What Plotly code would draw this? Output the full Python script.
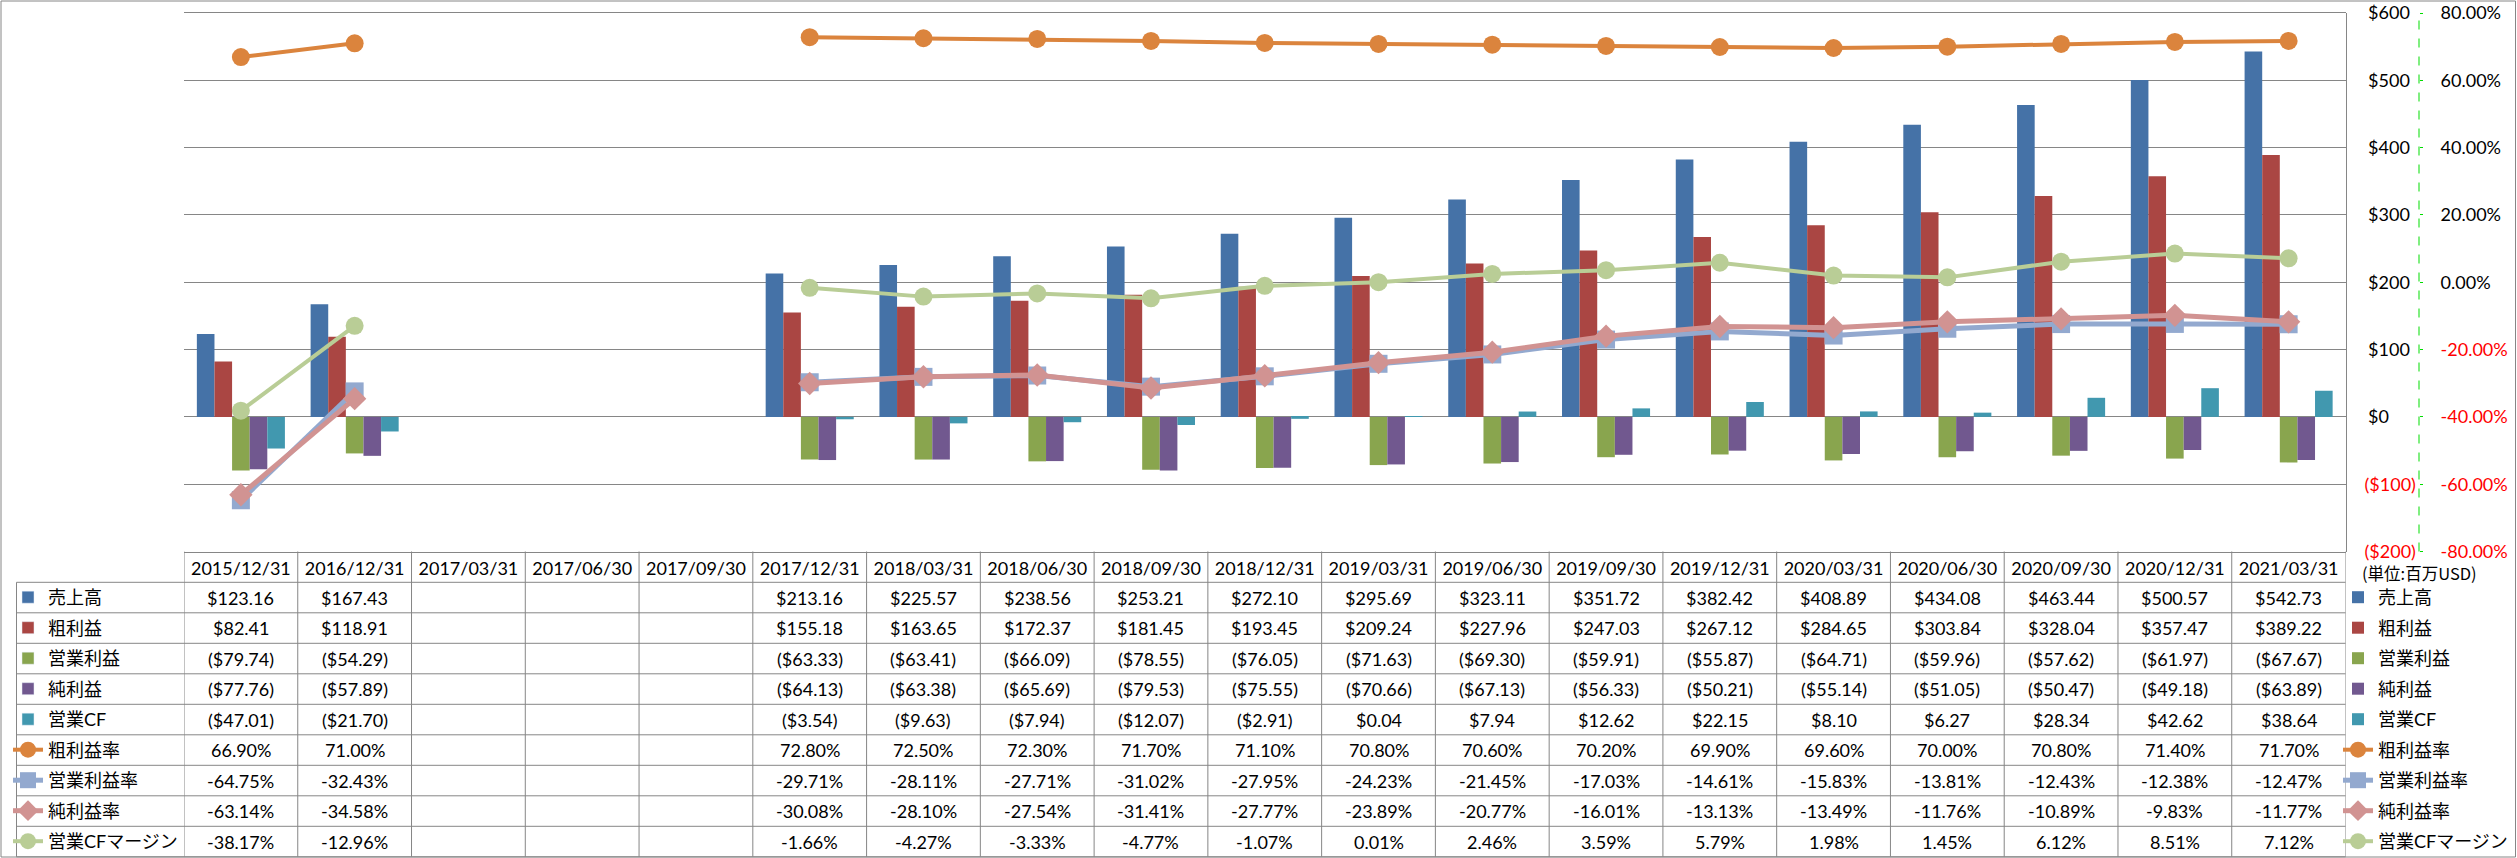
import plotly.graph_objects as go

W, H = 2517, 858

# ---------------- data ----------------
categories = ['2015/12/31', '2016/12/31', '2017/03/31', '2017/06/30', '2017/09/30',
              '2017/12/31', '2018/03/31', '2018/06/30', '2018/09/30', '2018/12/31',
              '2019/03/31', '2019/06/30', '2019/09/30', '2019/12/31', '2020/03/31',
              '2020/06/30', '2020/09/30', '2020/12/31', '2021/03/31']
N = None
sales = [123.16, 167.43, N, N, N, 213.16, 225.57, 238.56, 253.21, 272.10,
         295.69, 323.11, 351.72, 382.42, 408.89, 434.08, 463.44, 500.57, 542.73]
gross_profit = [82.41, 118.91, N, N, N, 155.18, 163.65, 172.37, 181.45, 193.45,
                209.24, 227.96, 247.03, 267.12, 284.65, 303.84, 328.04, 357.47, 389.22]
operating_income = [-79.74, -54.29, N, N, N, -63.33, -63.41, -66.09, -78.55, -76.05,
                    -71.63, -69.30, -59.91, -55.87, -64.71, -59.96, -57.62, -61.97, -67.67]
net_income = [-77.76, -57.89, N, N, N, -64.13, -63.38, -65.69, -79.53, -75.55,
              -70.66, -67.13, -56.33, -50.21, -55.14, -51.05, -50.47, -49.18, -63.89]
operating_cf = [-47.01, -21.70, N, N, N, -3.54, -9.63, -7.94, -12.07, -2.91,
                0.04, 7.94, 12.62, 22.15, 8.10, 6.27, 28.34, 42.62, 38.64]
gross_margin = [66.90, 71.00, N, N, N, 72.80, 72.50, 72.30, 71.70, 71.10,
                70.80, 70.60, 70.20, 69.90, 69.60, 70.00, 70.80, 71.40, 71.70]
operating_margin = [-64.75, -32.43, N, N, N, -29.71, -28.11, -27.71, -31.02, -27.95,
                    -24.23, -21.45, -17.03, -14.61, -15.83, -13.81, -12.43, -12.38, -12.47]
net_margin = [-63.14, -34.58, N, N, N, -30.08, -28.10, -27.54, -31.41, -27.77,
              -23.89, -20.77, -16.01, -13.13, -13.49, -11.76, -10.89, -9.83, -11.77]
cf_margin = [-38.17, -12.96, N, N, N, -1.66, -4.27, -3.33, -4.77, -1.07,
             0.01, 2.46, 3.59, 5.79, 1.98, 1.45, 6.12, 8.51, 7.12]

bar_names = ['売上高', '粗利益', '営業利益', '純利益', '営業CF']
line_names = ['粗利益率', '営業利益率', '純利益率', '営業CFマージン']
money_ticks = [-200, -100, 0, 100, 200, 300, 400, 500, 600]
pct_ticks = [-80, -60, -40, -20, 0, 20, 40, 60, 80]
unit_label = '(単位:百万USD)'

# ---------------- styles ----------------
bar_series = [sales, gross_profit, operating_income, net_income, operating_cf]
line_series = [gross_margin, operating_margin, net_margin, cf_margin]
bar_colors = ['#4572A7', '#AA4643', '#89A54E', '#71588F', '#4198AF']
line_colors = ['#DB843D', '#93A9CF', '#D19392', '#B9CD96']
line_symbols = ['circle', 'square', 'diamond', 'circle']
line_widths = [4, 5, 5, 4]

FONT = "Lato, 'Noto Sans CJK JP', sans-serif"
CJK = "'Noto Sans CJK JP', Lato, sans-serif"
GRID = '#868686'
RED = '#FF0000'


def px_x(v):
    return v / W


def px_y(v):
    return 1 - v / H


def fmt_money(v, dec=2):
    if v is None:
        return ''
    s = f"${abs(v):,.{dec}f}"
    return f"({s})" if v < 0 else s


def fmt_pct(v):
    return '' if v is None else f"{v:.2f}%"


PLOT_L, PLOT_R, PLOT_T, PLOT_B = 184, 2345.5, 13, 551.5
ROW_TOP, ROW_H = 582.3, 30.5

fig = go.Figure()

for name, vals, col in zip(bar_names, bar_series, bar_colors):
    fig.add_trace(go.Bar(x=categories, y=vals, name=name, xaxis='x', yaxis='y',
                         marker=dict(color=col, line=dict(width=0)),
                         legend='legend', legendgroup=name))

for name, vals, col, sym, lw in zip(line_names, line_series, line_colors, line_symbols, line_widths):
    fig.add_trace(go.Scatter(x=categories, y=vals, name=name, xaxis='x', yaxis='y2',
                             mode='lines+markers', connectgaps=False,
                             line=dict(color=col, width=lw),
                             marker=dict(symbol=sym, size=18, color=col, line=dict(width=0)),
                             legend='legend', legendgroup=name))

# empty helpers so the red (negative) tick-label axes are drawn
for ax in ['y3', 'y4']:
    fig.add_trace(go.Scatter(x=[None], y=[None], xaxis='x', yaxis=ax, showlegend=False,
                             hoverinfo='skip', mode='lines'))

# legend keys for the data-table column (proxy entries, no data)
for name, col in zip(bar_names, bar_colors):
    fig.add_trace(go.Bar(x=[None], y=[None], name=name, xaxis='x2', yaxis='y5',
                         marker=dict(color=col), legend='legend2',
                         legendgroup=name + '_tbl', hoverinfo='skip'))
for name, col, sym, lw in zip(line_names, line_colors, line_symbols, line_widths):
    fig.add_trace(go.Scatter(x=[None], y=[None], name=name, xaxis='x2', yaxis='y5',
                             mode='lines+markers', line=dict(color=col, width=lw),
                             marker=dict(symbol=sym, size=18, color=col),
                             legend='legend2', legendgroup=name + '_tbl', hoverinfo='skip'))

# ---------------- table text ----------------
annotations = []
rows = [(v, fmt_money) for v in bar_series] + [(v, fmt_pct) for v in line_series]
for r, (vals, f) in enumerate(rows):
    yc = ROW_TOP + ROW_H * (r + 0.5)
    for c, v in zip(categories, vals):
        if v is None:
            continue
        annotations.append(dict(x=c, xref='x', y=px_y(yc), yref='paper', text=f(v),
                                showarrow=False, xanchor='center', yanchor='middle',
                                font=dict(family=FONT, size=18, color='black')))
annotations.append(dict(x=px_x(2360), y=px_y(573), xref='paper', yref='paper', text=unit_label,
                        showarrow=False, xanchor='left', yanchor='middle',
                        font=dict(family=CJK, size=16.5, color='black')))

# ---------------- table lines ----------------
shapes = []
line_style = dict(color=GRID, width=1)
for k in range(10):
    y = ROW_TOP + ROW_H * k
    shapes.append(dict(type='line', xref='paper', yref='paper', x0=px_x(16.5), x1=px_x(PLOT_R),
                       y0=px_y(y), y1=px_y(y), line=line_style))
for i in range(len(categories) + 1):
    shapes.append(dict(type='line', xref='x', yref='paper', x0=i - 0.5, x1=i - 0.5,
                       y0=px_y(PLOT_B), y1=px_y(ROW_TOP + ROW_H * 9), line=line_style))
shapes.append(dict(type='line', xref='paper', yref='paper', x0=px_x(16.5), x1=px_x(16.5),
                   y0=px_y(ROW_TOP), y1=px_y(ROW_TOP + ROW_H * 9), line=line_style))
# outer chart border
shapes.append(dict(type='rect', xref='paper', yref='paper', x0=px_x(1), x1=px_x(2515.5),
                   y0=px_y(857), y1=px_y(1), line=dict(color=GRID, width=1)))
# secondary axis line (dashed green)
shapes.append(dict(type='line', xref='paper', yref='paper', x0=px_x(2419), x1=px_x(2419),
                   y0=px_y(PLOT_B), y1=px_y(PLOT_T), line=dict(color='#00DD00', width=1, dash='dash')))

ydom = [px_y(PLOT_B), px_y(PLOT_T)]
pos_money = [t for t in money_ticks if t >= 0]
neg_money = [t for t in money_ticks if t < 0]
pos_pct = [t for t in pct_ticks if t >= 0]
neg_pct = [t for t in pct_ticks if t < 0]
tickfont_black = dict(family=FONT, size=18, color='black')
tickfont_red = dict(family=FONT, size=18, color=RED)

money_axis = dict(range=[money_ticks[0], money_ticks[-1]], side='right', anchor='free',
                  position=px_x(PLOT_R), zeroline=False, ticks='', ticklabelstandoff=18,
                  showgrid=True, gridcolor=GRID, gridwidth=1)
pct_axis = dict(range=[pct_ticks[0], pct_ticks[-1]], side='right', anchor='free',
                position=px_x(2419), zeroline=False, ticks='outside', ticklen=3,
                tickcolor='#00DD00', tickwidth=1, showgrid=False, showline=False,
                ticklabelstandoff=14)

fig.update_layout(
    width=W, height=H,
    margin=dict(l=0, r=0, t=0, b=0, autoexpand=False),
    paper_bgcolor='white', plot_bgcolor='white',
    barmode='group', bargap=0.226, bargroupgap=0,
    xaxis=dict(domain=[px_x(PLOT_L), px_x(PLOT_R)], type='category',
               categoryorder='array', categoryarray=categories,
               range=[-0.5, len(categories) - 0.5], showgrid=False, zeroline=False,
               showline=True, mirror=True, linecolor=GRID, linewidth=1,
               ticks='', ticklabelstandoff=1,
               tickfont=dict(family=FONT, size=18, color='black'), anchor='y'),
    yaxis=dict(domain=ydom, tickvals=pos_money, ticktext=[fmt_money(t, 0) for t in pos_money],
               tickfont=tickfont_black, showline=True, linecolor=GRID, linewidth=1, **money_axis),
    yaxis3=dict(overlaying='y', tickvals=neg_money, ticktext=[fmt_money(t, 0) for t in neg_money],
                tickfont=tickfont_red, showline=False, **money_axis),
    yaxis2=dict(overlaying='y', tickvals=pos_pct, ticktext=[fmt_pct(t) for t in pos_pct],
                tickfont=tickfont_black, **pct_axis),
    yaxis4=dict(overlaying='y', tickvals=neg_pct, ticktext=[fmt_pct(t) for t in neg_pct],
                tickfont=tickfont_red, **pct_axis),
    xaxis2=dict(visible=False, domain=[0, 0.001], anchor='y5'),
    yaxis5=dict(visible=False, domain=[0, 0.001], anchor='x2'),
    legend=dict(x=px_x(2338), xanchor='left', y=px_y(579), yanchor='top',
                bgcolor='rgba(0,0,0,0)', borderwidth=0, tracegroupgap=4.1,
                font=dict(family=FONT, size=18, color='black')),
    legend2=dict(x=px_x(8), xanchor='left', y=px_y(579), yanchor='top',
                 bgcolor='rgba(0,0,0,0)', borderwidth=0, tracegroupgap=4.1,
                 font=dict(family=FONT, size=18, color='black')),
    annotations=annotations,
    shapes=shapes,
    showlegend=True,
)

fig.write_html("out.html", config={'displayModeBar': False},
               post_script="document.body.style.margin='0px';")
